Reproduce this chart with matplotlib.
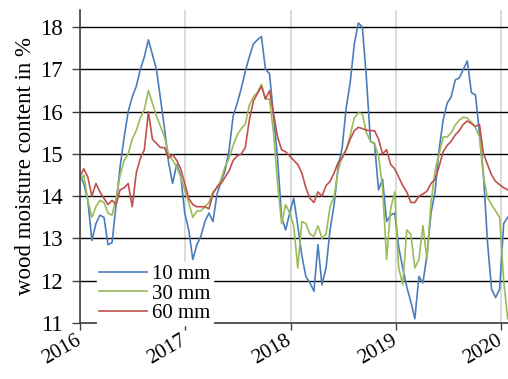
import matplotlib
matplotlib.use('Agg')
import matplotlib.pyplot as plt
import matplotlib.dates as mdates
import matplotlib.transforms as mtransforms
import pandas as pd

## Data (one value every two weeks) ##
start_date = '2016-01-01'

mc_10mm = [14.5, 14.3, 13.9, 12.95, 13.35, 13.55, 13.5, 12.85, 12.9, 13.8, 14.7, 15.4, 16.0,
           16.35, 16.6, 17.0, 17.3, 17.7, 17.35, 17.0, 16.3, 15.6, 14.8, 14.3, 14.75, 14.5,
           13.6, 13.2, 12.5, 12.85, 13.05, 13.4, 13.6, 13.4, 14.05, 14.35, 14.6, 15.1, 15.9,
           16.2, 16.55, 16.95, 17.3, 17.6, 17.7, 17.78, 17.0, 16.9, 15.9, 14.9, 13.5, 13.2,
           13.6, 13.95, 13.3, 12.6, 12.1, 11.95, 11.75, 12.85, 11.9, 12.3, 13.2, 13.8, 14.7,
           15.15, 16.1, 16.7, 17.6, 18.1, 18.0, 16.8, 15.3, 15.25, 14.15, 14.4, 13.4, 13.55,
           13.6, 12.8, 12.3, 11.85, 11.5, 11.1, 12.1, 11.95, 12.6, 13.6, 14.1, 15.1, 15.8,
           16.2, 16.35, 16.75, 16.8, 17.0, 17.2, 16.45, 16.4, 15.5, 14.5, 12.9, 11.8, 11.6,
           11.8, 13.35, 13.5]

mc_30mm = [14.35, 14.5, 13.9, 13.5, 13.75, 13.9, 13.85, 13.6, 13.55, 13.95, 14.5, 14.85, 15.0,
           15.35, 15.55, 15.85, 16.05, 16.5, 16.2, 15.9, 15.65, 15.4, 15.0, 14.85, 14.7, 14.45,
           14.15, 13.85, 13.5, 13.65, 13.65, 13.75, 13.85, 14.1, 14.2, 14.4, 14.7, 14.9, 15.2,
           15.45, 15.6, 15.7, 16.15, 16.35, 16.45, 16.65, 16.3, 16.3, 15.5, 14.3, 13.35, 13.8,
           13.6, 13.3, 12.3, 13.4, 13.35, 13.1, 13.05, 13.3, 13.0, 13.1, 13.75, 14.0, 14.6,
           14.95, 15.1, 15.45, 15.85, 15.97, 15.95, 15.5, 15.3, 15.24, 14.95, 14.2, 12.5, 13.7,
           14.1, 12.3, 11.9, 13.2, 13.1, 12.3, 12.5, 13.3, 12.5, 13.85, 14.6, 15.0, 15.4,
           15.4, 15.5, 15.68, 15.8, 15.87, 15.85, 15.75, 15.63, 15.4, 14.45, 13.97, 13.8, 13.65,
           13.5, 12.0, 11.1]

mc_60mm = [14.45, 14.65, 14.45, 14.0, 14.3, 14.1, 13.95, 13.8, 13.9, 13.8, 14.15, 14.2, 14.3,
           13.75, 14.55, 14.9, 15.1, 16.0, 15.35, 15.25, 15.15, 15.15, 14.9, 14.98, 14.85, 14.65,
           14.3, 13.95, 13.8, 13.75, 13.75, 13.75, 13.7, 14.06, 14.22, 14.3, 14.45, 14.6, 14.85,
           14.95, 15.0, 15.15, 15.8, 16.25, 16.43, 16.6, 16.3, 16.5, 15.95, 15.4, 15.1, 15.05,
           14.95, 14.85, 14.75, 14.55, 14.2, 13.95, 13.85, 14.1, 14.0, 14.25, 14.35, 14.55, 14.8,
           14.9, 15.1, 15.35, 15.55, 15.63, 15.6, 15.56, 15.55, 15.55, 15.35, 15.0, 15.1, 14.75,
           14.65, 14.45, 14.25, 14.1, 13.85, 13.85, 14.0, 14.05, 14.12, 14.3, 14.4, 14.7, 15.05,
           15.2, 15.3, 15.45, 15.55, 15.7, 15.78, 15.72, 15.65, 15.7, 15.0, 14.75, 14.5, 14.35,
           14.27, 14.2, 14.15]

series_labels = ['10 mm', '30 mm', '60 mm']
series_colors = ['#4a7ebb', '#9bbb59', '#c0504d']

dates = pd.date_range(start_date, periods=len(mc_10mm), freq='14D')

plt.rcParams['font.family'] = ['Liberation Serif', 'DejaVu Serif']

fig = plt.figure(figsize=(5.08, 3.79), dpi=100)
ax = fig.add_axes([0.157, 0.148, 0.843, 0.826])

for values, label, color in zip([mc_10mm, mc_30mm, mc_60mm], series_labels, series_colors):
    ax.plot(dates, values, color=color, linewidth=1.2, label=label)

## Axes styling ##
ax.set_ylim(11, 18.41)
ax.set_yticks(range(11, 19))
ax.set_xlim(pd.Timestamp('2016-01-01'), pd.Timestamp('2020-01-25'))
ax.xaxis.set_major_locator(mdates.YearLocator())
ax.xaxis.set_major_formatter(mdates.DateFormatter('%Y'))

ax.grid(axis='y', color='black', linewidth=1.0)
ax.grid(axis='x', color='#d9d9d9', linewidth=1.3)
ax.set_axisbelow(True)

for side in ['top', 'right']:
    ax.spines[side].set_visible(False)
for side in ['left', 'bottom']:
    ax.spines[side].set_color('#404040')
    ax.spines[side].set_linewidth(1.2)

ax.tick_params(axis='y', direction='out', length=6, width=1.0, color='#404040', labelsize=16.5, pad=6)
ax.tick_params(axis='x', direction='out', length=5, width=1.0, color='#404040', labelsize=15, pad=1)
# nudge the rotated year labels a little left so the last one stays inside the figure
shift = mtransforms.ScaledTranslation(-5 / 100, 0, fig.dpi_scale_trans)
for lbl in ax.get_xticklabels():
    lbl.set_rotation(30)
    lbl.set_ha('right')
    lbl.set_rotation_mode('anchor')
    lbl.set_transform(lbl.get_transform() + shift)

ax.set_ylabel('wood moisture content in %', fontsize=16.5, labelpad=3)

leg = ax.legend(loc='lower left', bbox_to_anchor=(0.04, -0.008), fontsize=15, frameon=True,
                handlelength=2.3, labelspacing=0.0, borderpad=0.1, handletextpad=0.25,
                borderaxespad=0.0)
leg.get_frame().set_facecolor('white')
leg.get_frame().set_edgecolor('white')
leg.get_frame().set_alpha(1.0)

plt.savefig('out.png', dpi=100)
